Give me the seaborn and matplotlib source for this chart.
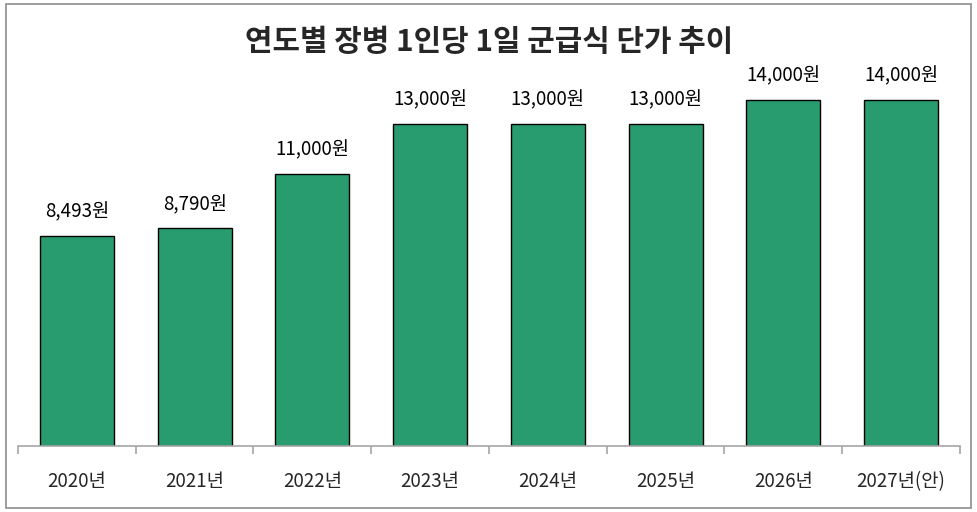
import matplotlib
matplotlib.use("Agg")
import matplotlib.pyplot as plt
import seaborn as sns
import pandas as pd
from matplotlib.patches import Rectangle

years = ["2020년", "2021년", "2022년", "2023년", "2024년", "2025년", "2026년", "2027년(안)"]
prices = [8493, 8790, 11000, 13000, 13000, 13000, 14000, 14000]
title = "연도별 장병 1인당 1일 군급식 단가 추이"

sns.set_theme(style="white")
plt.rcParams['font.family'] = ['Noto Sans CJK KR', 'DejaVu Sans']

df = pd.DataFrame({"year": years, "price": prices})

fig = plt.figure(figsize=(9.78, 5.12), dpi=100)
ax = fig.add_axes([18 / 978, 66 / 512, 942 / 978, 396 / 512])

sns.barplot(data=df, x="year", y="price", color="#289c6e", saturation=1,
            width=0.63, edgecolor="black", linewidth=1.0, ax=ax)

for i, v in enumerate(prices):
    ax.text(i, v + 550, f"{v:,}원", ha="center", va="bottom", fontsize=13.5, color="black")

ax.set_xlim(-0.5, len(years) - 0.5)
ax.set_ylim(0, 16000)
ax.set_xlabel("")
ax.set_ylabel("")
ax.set_yticks([])
for s in ["top", "right", "left"]:
    ax.spines[s].set_visible(False)
ax.spines["bottom"].set_color("#a6a6a6")
ax.spines["bottom"].set_linewidth(1.2)

# ticks between categories
ax.set_xticks([i - 0.5 for i in range(len(years) + 1)], minor=True)
ax.tick_params(axis="x", which="minor", length=6, width=1.2, color="#a6a6a6", direction="out", bottom=True)
ax.tick_params(axis="x", which="major", length=0, pad=18, labelsize=13.5)

fig.suptitle(title, x=0.5, y=0.918, fontsize=21.5, fontweight="bold", va="center")

fig.patches.append(Rectangle((6 / 978, 4 / 512), 965 / 978, 504 / 512, transform=fig.transFigure,
                             fill=False, edgecolor="#8c8c8c", linewidth=1.2))

fig.savefig("out.png", dpi=100)
